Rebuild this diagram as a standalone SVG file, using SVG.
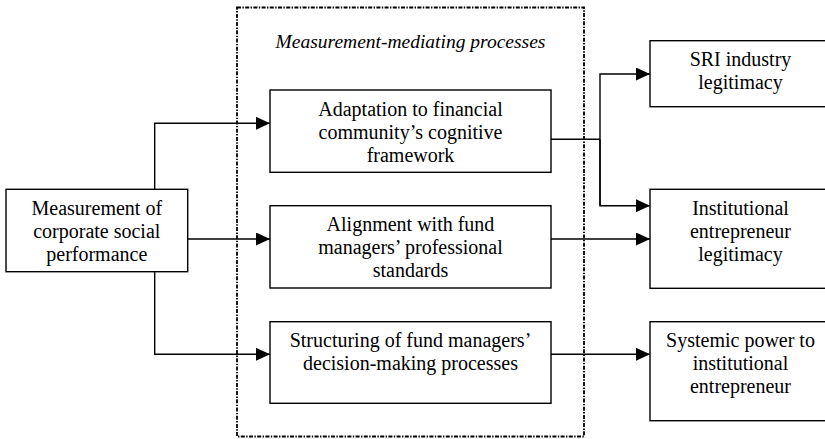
<svg xmlns="http://www.w3.org/2000/svg" width="825" height="439" viewBox="0 0 825 439">
  <style>
    .box { fill: #ffffff; stroke: #000000; stroke-width: 1.4; }
    text { font-family: 'Liberation Serif', 'Times New Roman', Tinos, 'Noto Serif', 'DejaVu Serif', 'Nimbus Roman', FreeSerif, serif; font-size: 20px; fill: #000000; text-anchor: middle; }
    .title { font-style: italic; font-size: 19.5px; }
    .wire { fill: none; stroke: #000000; stroke-width: 1.4; }
    .frame { fill: none; stroke: #000000; stroke-width: 1.8; stroke-dasharray: 4 1.4 1.4 1.4; }
  </style>
  <defs>
    <marker id="arrow" viewBox="0 0 14 13" refX="14" refY="6.5" markerWidth="14" markerHeight="13" markerUnits="userSpaceOnUse" orient="auto">
      <path d="M0,0 L14,6.5 L0,13 Z" fill="#000000"/>
    </marker>
  </defs>
  <rect width="825" height="439" fill="#ffffff"/>

  <!-- grouping frame for the mediating processes -->
  <g id="mediating-frame">
    <rect class="frame" x="237" y="7.5" width="347" height="429"/>
    <text class="title" x="410.5" y="48">Measurement-mediating processes</text>
  </g>

  <!-- connectors -->
  <g id="connectors">
    <path class="wire" d="M154.7,189.3 V123.3 H270" marker-end="url(#arrow)"/>
    <path class="wire" d="M187.7,239 H270" marker-end="url(#arrow)"/>
    <path class="wire" d="M154.7,271.7 V354.3 H270" marker-end="url(#arrow)"/>
    <path class="wire" d="M551,139.3 H600"/>
    <path class="wire" d="M600,205.7 V74 H650" marker-end="url(#arrow)"/>
    <path class="wire" d="M600,139.3 V205.7 H650" marker-end="url(#arrow)"/>
    <path class="wire" d="M551,239 H650" marker-end="url(#arrow)"/>
    <path class="wire" d="M551,354.3 H650" marker-end="url(#arrow)"/>
  </g>

  <g id="csp-measurement">
    <rect class="box" x="6" y="189.3" width="181.7" height="82.4"/>
    <text x="96.8" y="214.5">Measurement of</text>
    <text x="96.8" y="237.5">corporate social</text>
    <text x="96.8" y="260.5">performance</text>
  </g>

  <g id="adaptation">
    <rect class="box" x="270" y="90" width="281" height="82.3"/>
    <text x="410.5" y="116">Adaptation to financial</text>
    <text x="410.5" y="139">community’s cognitive</text>
    <text x="410.5" y="162">framework</text>
  </g>

  <g id="alignment">
    <rect class="box" x="270" y="205.7" width="281" height="82.3"/>
    <text x="410.5" y="231">Alignment with fund</text>
    <text x="410.5" y="254">managers’ professional</text>
    <text x="410.5" y="277">standards</text>
  </g>

  <g id="structuring">
    <rect class="box" x="270" y="321.7" width="281" height="81.6"/>
    <text x="410.5" y="347">Structuring of fund managers’</text>
    <text x="410.5" y="370">decision-making processes</text>
  </g>

  <g id="sri-legitimacy">
    <rect class="box" x="650" y="40.7" width="182" height="66"/>
    <text x="740.5" y="66">SRI industry</text>
    <text x="740.5" y="89">legitimacy</text>
  </g>

  <g id="entrepreneur-legitimacy">
    <rect class="box" x="650" y="189.3" width="182" height="99"/>
    <text x="740.5" y="214.5">Institutional</text>
    <text x="740.5" y="237.5">entrepreneur</text>
    <text x="740.5" y="260.5">legitimacy</text>
  </g>

  <g id="systemic-power">
    <rect class="box" x="650" y="321.7" width="182" height="99"/>
    <text x="740.5" y="347">Systemic power to</text>
    <text x="740.5" y="370">institutional</text>
    <text x="740.5" y="393">entrepreneur</text>
  </g>
</svg>
